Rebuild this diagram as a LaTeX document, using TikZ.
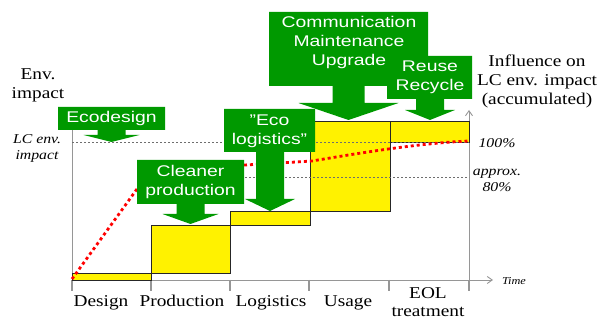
\documentclass[tikz,border=0pt]{standalone}
\usepackage{fontspec}
\setmainfont{Liberation Serif}[FakeStretch=1.17]
\setsansfont{Liberation Sans}[FakeStretch=1.25]
\usetikzlibrary{arrows.meta}
\definecolor{cgreen}{RGB}{0,153,0}
\definecolor{axisgray}{RGB}{150,150,150}
\definecolor{dashgray}{RGB}{110,110,110}
\tikzset{
  axisline/.style={draw=axisgray, line width=0.9pt},
  tickline/.style={draw=axisgray, line width=1.8pt},
  guide/.style={draw=dashgray, line width=0.5pt, dash pattern=on 2pt off 2pt},
  bar/.style={fill=yellow, draw=black!85, line width=0.9pt},
  reddots/.style={draw=red, line width=2.8pt, dash pattern=on 3pt off 3pt},
  greenshape/.style={fill=cgreen},
  gtext/.style={font=\sffamily\fontsize{15.5}{19}\selectfont, text=white, align=center, inner sep=0pt},
  serif/.style={font=\fontsize{16.5}{19}\selectfont, align=center, inner sep=0pt},
  phase/.style={font=\fontsize{16.5}{18}\selectfont, align=center, inner sep=0pt, anchor=base},
  serifit/.style={font=\itshape\fontsize{13.5}{16}\selectfont, align=center, inner sep=0pt},
}
% #1 cx, #2 x1, #3 x2, #4 ytop, #5 ybot, #6 shaft half, #7 head base y, #8 head half, #9 tip y
\newcommand\gcallout[9]{%
  \fill[greenshape] (#2,#4) -- (#3,#4) -- (#3,#5) -- ({#1+#6},#5) -- ({#1+#6},#7)
    -- ({#1+#8},#7) -- (#1,#9) -- ({#1-#8},#7) -- ({#1-#6},#7) -- ({#1-#6},#5)
    -- (#2,#5) -- cycle;}
\begin{document}
\begin{tikzpicture}[x=1pt,y=-1pt]
\useasboundingbox (0,0) rectangle (598,320);
% axes
\coordinate (O) at (72,280);
\coordinate (Ytop) at (72,112);
\coordinate (Xend) at (493,280);
\coordinate (R0) at (469,291);
\coordinate (Rtop) at (469,110);
\draw[axisline] (O) -- (Ytop);
\draw[axisline, -{Straight Barb[length=5pt,width=7pt]}] (O) -- (Xend);
\draw[axisline, -{Straight Barb[length=5pt,width=7pt]}] (R0) -- (Rtop);
\foreach \x in {72,151,230,309,389,469}{\draw[tickline] (\x,280) -- (\x,291);}
% bars
\draw[bar] (72,273) rectangle (151,280);
\draw[bar] (151,225) rectangle (230,273);
\draw[bar] (230,211) rectangle (310,225);
\draw[bar] (310,121) rectangle (390,211);
\draw[bar] (390,121) rectangle (469,142);
% guides
\coordinate (g1a) at (72,142);
\coordinate (g1b) at (469,142);
\coordinate (g2a) at (245,177);
\coordinate (g2b) at (469,177);
\draw[guide] (g1a) -- (g1b);
\draw[guide] (g2a) -- (g2b);
% red curve
\draw[reddots] (72,279) -- (150,171) .. controls (170,164) .. (245,165)
  .. controls (280,163) .. (312,161) .. controls (360,153) and (420,143) .. (469,141);
% callouts
\gcallout{111.5}{58}{165}{107}{130}{14}{135}{28}{142}
\node[gtext] (eco) at (111.5,118.5) {Ecodesign};
\gcallout{190.5}{137}{244}{160}{204}{14}{214}{28}{224}
\node[gtext] (clean) at (190.5,182) {Cleaner\\production};
\gcallout{270}{224}{315}{109}{152}{14}{199}{25}{211}
\node[gtext] (log) at (269.5,131) {”Eco\\logistics”};
\gcallout{348.5}{269}{428}{12}{86}{16}{103}{50}{120}
\node[gtext] (comm) at (349,42) {Communication\\Maintenance\\Upgrade};
\gcallout{430}{387}{472}{56}{99}{14}{110}{25}{120}
\node[gtext] (reuse) at (430,77) {Reuse\\Recycle};
% labels
\node[serif] (env) at (38,85) {Env.\\impact};
\node[serifit] (lc) at (37,148) {LC env.\\impact};
\node[serif] (infl) at (537,81) {Influence on\\LC env. impact\\(accumulated)};
\node[serifit] (p100) at (497,143) {100\%};
\node[serifit] (p80) at (497,180) {approx.\\80\%};
\node[font=\itshape\fontsize{10.5}{12}\selectfont, inner sep=0pt] (time) at (514,281) {Time};
\node[phase] (d) at (101,307) {Design};
\node[phase] (p) at (182,307) {Production};
\node[phase] (l) at (271,307) {Logistics};
\node[phase] (u) at (348,307) {Usage};
\node[phase] (e) at (428,317) {EOL\\treatment};
\end{tikzpicture}
\end{document}
